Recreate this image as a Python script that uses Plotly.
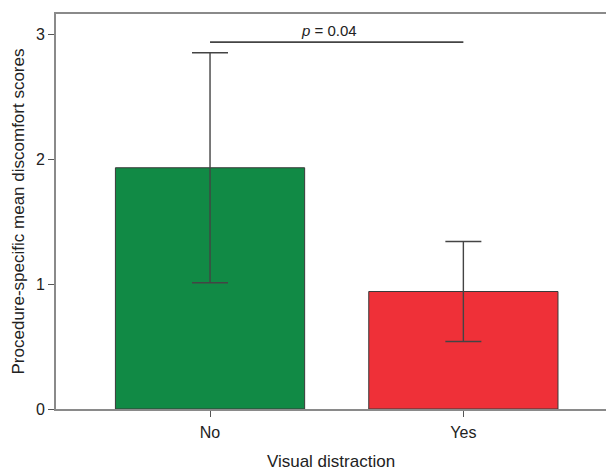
import plotly.graph_objects as go

categories = ["No", "Yes"]
means = [1.93, 0.94]
errors = [0.92, 0.40]
bar_colors = ["#118A45", "#EF3038"]
y_ticks = [0, 1, 2, 3]
p_label = "<i>p</i> = 0.04"
bracket_y = 2.935

fig = go.Figure()
fig.add_trace(go.Bar(
    x=categories, y=means, width=0.747,
    marker=dict(color=bar_colors, line=dict(color="#3a3a3a", width=1)),
    error_y=dict(type="data", array=errors, visible=True, color="#444444",
                 thickness=1.4, width=18),
    showlegend=False,
))

fig.add_shape(type="line", xref="x", yref="y", x0=categories[0], x1=categories[1],
              y0=bracket_y, y1=bracket_y, line=dict(color="#444444", width=1.6))
fig.add_annotation(x=0.47, y=bracket_y, xref="x", yref="y", text=p_label,
                   showarrow=False, yanchor="bottom", yshift=1,
                   font=dict(family="Liberation Sans, Arial", size=15, color="#222"))

fig.update_layout(
    width=606, height=472,
    margin=dict(l=56, r=0, t=14, b=63),
    paper_bgcolor="white", plot_bgcolor="white",
    font=dict(family="Liberation Sans, Arial", size=16, color="#222"),
)
fig.update_xaxes(
    range=[-0.608, 1.563], showline=True, linecolor="#8a8a8a", linewidth=1.6,
    mirror=True, ticks="outside", ticklen=6, tickcolor="#555", tickwidth=1,
    ticklabelstandoff=2,
    title=dict(text="Visual distraction", font=dict(size=17), standoff=15),
    showgrid=False, zeroline=False, automargin=False,
)
fig.update_yaxes(
    range=[0, 3.16], tickvals=y_ticks, showline=True, linecolor="#8a8a8a",
    linewidth=1.6, ticks="outside", ticklen=6, tickcolor="#555", tickwidth=1,
    title=dict(text="Procedure-specific mean discomfort scores", font=dict(size=17), standoff=7),
    showgrid=False, zeroline=False, automargin=False,
)

fig.write_html("out.html", config={"displayModeBar": False},
               post_script="document.body.style.margin='0';")
